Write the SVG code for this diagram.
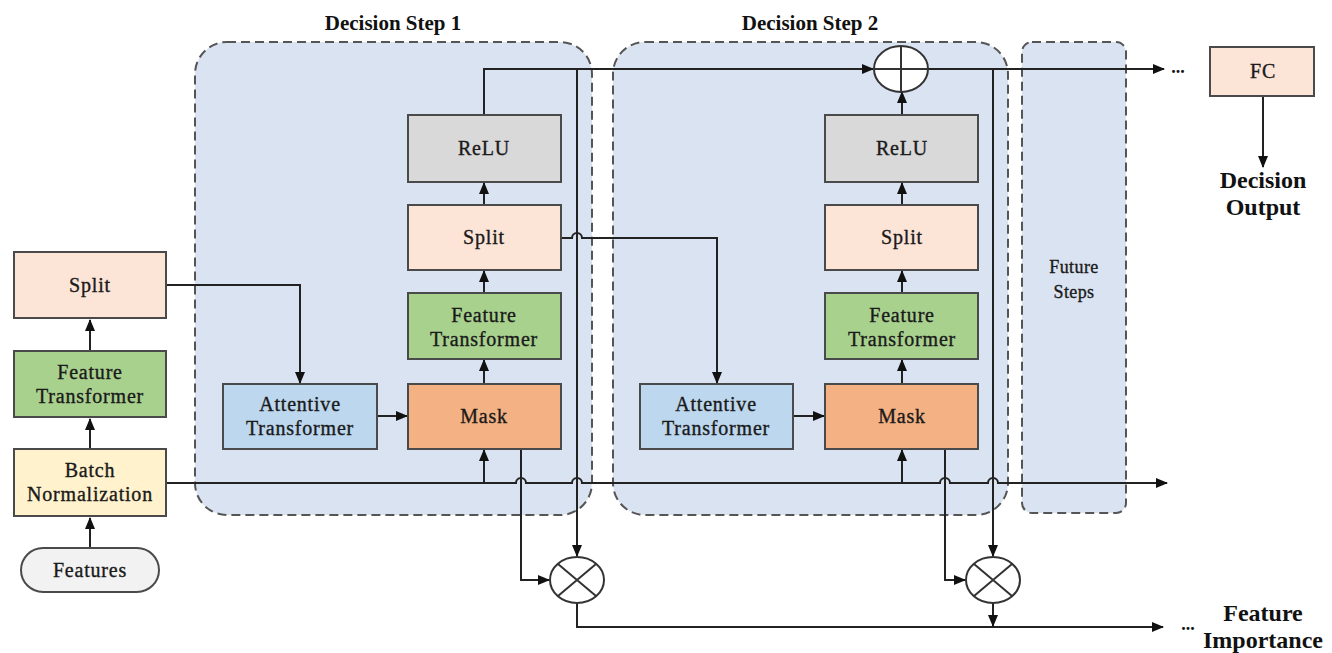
<svg xmlns="http://www.w3.org/2000/svg" width="1332" height="653" viewBox="0 0 1332 653">
<style>
.bg{fill:#ffffff}
.step{fill:#DAE3F2;stroke:#555;stroke-width:2;stroke-dasharray:9 5}
.box{stroke:#4a4a4a;stroke-width:2}
.split{fill:#FCE4D6}
.ft{fill:#A9D18E}
.bn{fill:#FFF2CC}
.feat{fill:#F2F2F2}
.relu{fill:#D9D9D9}
.mask{fill:#F4B183}
.att{fill:#BDD7EE}
.op{fill:#ffffff;stroke:#333;stroke-width:2}
.t{font-family:"Liberation Serif","DejaVu Serif","Times New Roman",serif;font-size:20px;fill:#1a1a1a;stroke:#1a1a1a;stroke-width:0.35;text-anchor:middle;letter-spacing:0.8px}
.fs{font-size:18px;letter-spacing:0.4px}
.tb{font-family:"Liberation Serif","DejaVu Serif","Times New Roman",serif;font-weight:bold;fill:#111;text-anchor:middle}
.c{fill:none;stroke:#222;stroke-width:2}
</style>
<defs>
<marker id="ah" markerUnits="userSpaceOnUse" markerWidth="12" markerHeight="10" refX="11" refY="5" orient="auto">
<path d="M0,0 L12,5 L0,10 z" fill="#111"/>
</marker>
</defs>
<rect class="bg" x="0" y="0" width="1332" height="653"/>

<g id="step1">
<rect class="step" x="195" y="42" width="397" height="473" rx="32"/>
<text class="tb" x="393" y="30" font-size="21">Decision Step 1</text>
</g>
<g id="step2">
<rect class="step" x="613" y="42" width="395" height="473" rx="32"/>
<text class="tb" x="810" y="30" font-size="21">Decision Step 2</text>
</g>
<g id="future">
<rect class="step" x="1022" y="42" width="104" height="471" rx="10"/>
<text class="t fs" x="1074" y="273">Future</text>
<text class="t fs" x="1074" y="298">Steps</text>
</g>

<g id="connectors">
<path class="c" d="M90,548 V518" marker-end="url(#ah)"/>
<path class="c" d="M90,449 V419" marker-end="url(#ah)"/>
<path class="c" d="M90,351 V320" marker-end="url(#ah)"/>
<path class="c" d="M166,285 H300 V383" marker-end="url(#ah)"/>
<path class="c" d="M377,416 H407" marker-end="url(#ah)"/>
<path class="c" d="M166,483 H516 a5,5 0 0 1 10,0 H572 a5,5 0 0 1 10,0 H940 a5,5 0 0 1 10,0 H988 a5,5 0 0 1 10,0 H1167" marker-end="url(#ah)"/>
<path class="c" d="M484,483 V450" marker-end="url(#ah)"/>
<path class="c" d="M484,384 V360" marker-end="url(#ah)"/>
<path class="c" d="M484,293 V271" marker-end="url(#ah)"/>
<path class="c" d="M484,205 V183" marker-end="url(#ah)"/>
<path class="c" d="M484,115 V69 H873" marker-end="url(#ah)"/>
<path class="c" d="M577,69 V556" marker-end="url(#ah)"/>
<path class="c" d="M521,449 V580 H549" marker-end="url(#ah)"/>
<path class="c" d="M577,603 V627 H1163" marker-end="url(#ah)"/>
<path class="c" d="M561,238 H572 a5,5 0 0 1 10,0 H717 V383" marker-end="url(#ah)"/>
<path class="c" d="M793,416 H824" marker-end="url(#ah)"/>
<path class="c" d="M902,483 V450" marker-end="url(#ah)"/>
<path class="c" d="M902,384 V360" marker-end="url(#ah)"/>
<path class="c" d="M902,293 V271" marker-end="url(#ah)"/>
<path class="c" d="M902,205 V183" marker-end="url(#ah)"/>
<path class="c" d="M902,115 V92" marker-end="url(#ah)"/>
<path class="c" d="M928,69 H1164" marker-end="url(#ah)"/>
<path class="c" d="M993,69 V556" marker-end="url(#ah)"/>
<path class="c" d="M945,449 V580 H965" marker-end="url(#ah)"/>
<path class="c" d="M993,603 V626" marker-end="url(#ah)"/>
<path class="c" d="M1263,96 V167" marker-end="url(#ah)"/>
</g>

<g id="split0"><rect class="box split" x="14" y="252" width="152" height="66"/><text class="t" x="90" y="292">Split</text></g>
<g id="ft0"><rect class="box ft" x="14" y="351" width="152" height="66"/><text class="t" x="90" y="379">Feature</text><text class="t" x="90" y="403">Transformer</text></g>
<g id="bn0"><rect class="box bn" x="14" y="449" width="152" height="67"/><text class="t" x="90" y="477">Batch</text><text class="t" x="90" y="501">Normalization</text></g>
<g id="features"><rect class="box feat" x="21" y="548" width="138" height="44" rx="22"/><text class="t" x="90" y="577">Features</text></g>

<g id="relu1"><rect class="box relu" x="408" y="115" width="153" height="67"/><text class="t" x="484" y="155">ReLU</text></g>
<g id="split1"><rect class="box split" x="408" y="205" width="153" height="65"/><text class="t" x="484" y="244">Split</text></g>
<g id="ft1"><rect class="box ft" x="408" y="293" width="153" height="66"/><text class="t" x="484" y="322">Feature</text><text class="t" x="484" y="346">Transformer</text></g>
<g id="mask1"><rect class="box mask" x="408" y="384" width="153" height="65"/><text class="t" x="484" y="423">Mask</text></g>
<g id="att1"><rect class="box att" x="223" y="384" width="154" height="65"/><text class="t" x="300" y="411">Attentive</text><text class="t" x="300" y="435">Transformer</text></g>

<g id="relu2"><rect class="box relu" x="825" y="115" width="153" height="67"/><text class="t" x="902" y="155">ReLU</text></g>
<g id="split2"><rect class="box split" x="825" y="205" width="153" height="65"/><text class="t" x="902" y="244">Split</text></g>
<g id="ft2"><rect class="box ft" x="825" y="293" width="153" height="66"/><text class="t" x="902" y="322">Feature</text><text class="t" x="902" y="346">Transformer</text></g>
<g id="mask2"><rect class="box mask" x="825" y="384" width="153" height="65"/><text class="t" x="902" y="423">Mask</text></g>
<g id="att2"><rect class="box att" x="640" y="384" width="153" height="65"/><text class="t" x="716" y="411">Attentive</text><text class="t" x="716" y="435">Transformer</text></g>

<g id="plus"><ellipse class="op" cx="901" cy="69" rx="27" ry="23"/><path class="c" style="stroke:#333" d="M901,46 V92 M874,69 H928"/></g>
<g id="mult1"><ellipse class="op" cx="577" cy="580" rx="27" ry="23"/><path class="c" style="stroke:#333" d="M558,564 L596,596 M596,564 L558,596"/></g>
<g id="mult2"><ellipse class="op" cx="993" cy="580" rx="27" ry="23"/><path class="c" style="stroke:#333" d="M974,564 L1012,596 M1012,564 L974,596"/></g>

<g id="fc"><rect class="box split" x="1210" y="47" width="104" height="49"/><text class="t" x="1263" y="78">FC</text></g>
<g id="decision-output"><text class="tb" x="1263" y="188" font-size="24">Decision</text><text class="tb" x="1263" y="215" font-size="24">Output</text></g>
<g id="feature-importance"><text class="tb" x="1263" y="621" font-size="24">Feature</text><text class="tb" x="1263" y="648" font-size="24">Importance</text></g>
<text class="tb" x="1178" y="73" font-size="18">...</text>
<text class="tb" x="1188" y="630" font-size="18">...</text>
</svg>
